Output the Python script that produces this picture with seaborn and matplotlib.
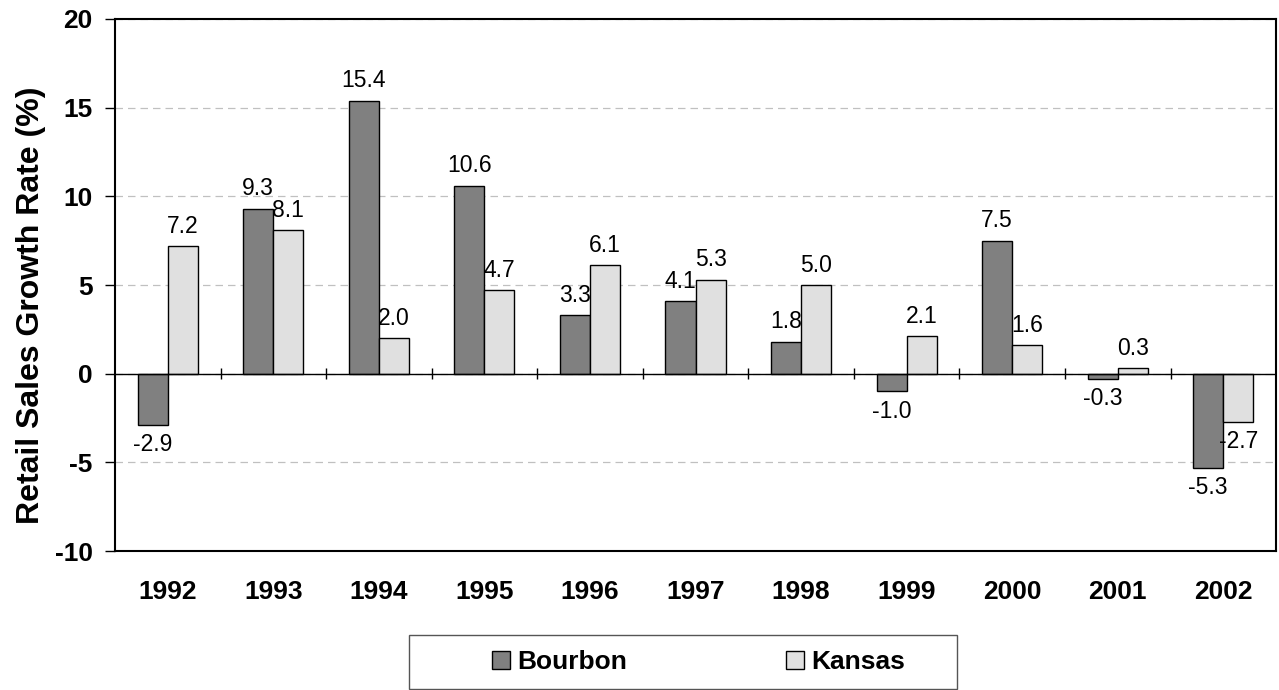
import pandas as pd
import matplotlib.pyplot as plt
import seaborn as sns
from matplotlib.patches import Rectangle

# Data
years = ['1992', '1993', '1994', '1995', '1996', '1997', '1998', '1999', '2000', '2001', '2002']
bourbon = [-2.9, 9.3, 15.4, 10.6, 3.3, 4.1, 1.8, -1.0, 7.5, -0.3, -5.3]
kansas = [7.2, 8.1, 2.0, 4.7, 6.1, 5.3, 5.0, 2.1, 1.6, 0.3, -2.7]

df = pd.DataFrame({
    'Year': years * 2,
    'Growth': bourbon + kansas,
    'Area': ['Bourbon'] * len(years) + ['Kansas'] * len(years),
})

sns.set_style('white')
plt.rcParams['font.family'] = ['Liberation Sans', 'DejaVu Sans']
plt.rcParams['axes.unicode_minus'] = False
plt.rcParams['text.color'] = 'black'
plt.rcParams['axes.labelcolor'] = 'black'
plt.rcParams['xtick.color'] = 'black'
plt.rcParams['ytick.color'] = 'black'

fig = plt.figure(figsize=(12.79, 6.9), dpi=100)
ax = fig.add_axes([0.0899, 0.2014, 0.9078, 0.7711])

sns.barplot(data=df, x='Year', y='Growth', hue='Area', order=years,
            palette={'Bourbon': '#808080', 'Kansas': '#e0e0e0'},
            width=0.57, edgecolor='black', linewidth=1.0, ax=ax, legend=True)

# Data labels
for cont in ax.containers:
    ax.bar_label(cont, fmt='%.1f', padding=6, fontsize=16.5, color='black')

ax.set_ylim(-10, 20)
ax.set_xlim(-0.5, len(years) - 0.5)
ax.set_yticks(range(-10, 21, 5))
ax.yaxis.grid(True, linestyle=(0, (6, 4)), color='#c0c0c0', linewidth=0.9)
ax.set_axisbelow(True)

# Zero line with category separator ticks
ax.axhline(0, color='black', linewidth=1.0, zorder=1)
ax.vlines([i + 0.5 for i in range(len(years) - 1)], -0.3, 0.3,
          color='black', linewidth=1.0, zorder=1)

for s in ax.spines.values():
    s.set_color('black')
    s.set_linewidth(1.5)

ax.tick_params(axis='y', direction='out', length=7, width=1, colors='black',
               labelsize=19, pad=9, left=True)
ax.tick_params(axis='x', length=0, labelsize=19, pad=21, colors='black')
for lbl in ax.get_xticklabels() + ax.get_yticklabels():
    lbl.set_fontweight('bold')

ax.set_xlabel('')
ax.set_ylabel('Retail Sales Growth Rate (%)', fontsize=23, fontweight='bold')
ax.yaxis.set_label_coords(-0.0594, 0.4624)

# Legend below the chart, with its own box
handles, labels = ax.get_legend_handles_labels()
ax.get_legend().remove()
fig.legend(handles, labels, loc='center', bbox_to_anchor=(698.5 / 1279, 1 - 662 / 690),
           ncol=2, frameon=False, prop={'size': 19, 'weight': 'bold'},
           handlelength=0.68, handleheight=0.68, handletextpad=0.27,
           columnspacing=6.05, borderpad=0.2)
fig.patches.append(Rectangle((409 / 1279, 1 / 690), 548 / 1279, 54 / 690,
                             transform=fig.transFigure, fill=False,
                             edgecolor='#555555', linewidth=1.0))

plt.savefig('out.png', dpi=100)
